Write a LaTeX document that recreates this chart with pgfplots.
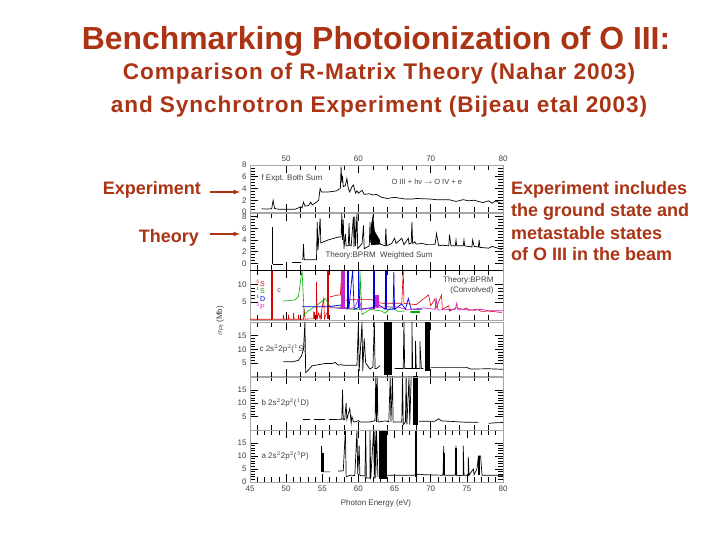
\documentclass[border=0pt]{standalone}
\usepackage{pgfplots}
\pgfplotsset{compat=1.18}
\usepackage{fontspec}
\setmainfont{Liberation Sans}
\definecolor{brick}{RGB}{170,52,20}
\definecolor{mag}{RGB}{200,40,200}
\pgfplotsset{panel/.style={
  scale only axis,anchor=south west,width=253pt,xmin=45,xmax=80,
  axis line style={draw=black!35,line width=0.3pt},
  tick style={black,line width=0.6pt},
  xtick distance=10,minor x tick num=4,
  tick align=inside,
  xticklabels={},yticklabels={},
  xtick pos=both,ytick pos=both,
  major tick length=8pt,minor tick length=5pt,
  ticklabel style={font=\fontsize{8}{8}\selectfont,text=black!75},
  /pgf/number format/assume math mode=true,
  cycle list={{black,solid,mark=none}},
  no markers,
  every axis plot/.append style={line width=0.7pt,line join=miter}
}}
\begin{document}
\begin{tikzpicture}[x=1pt,y=1pt]
\path[fill=white] (0,0) rectangle (720,540);
\useasboundingbox (0,0) rectangle (720,540);

% titles
\node[text=brick,font=\fontsize{31.9}{33}\selectfont\bfseries,anchor=center,inner sep=0pt] at (376,498.5) {Benchmarking Photoionization of O III:};
\node[text=brick,font=\fontsize{22.6}{24}\selectfont\bfseries\addfontfeatures{LetterSpace=4},anchor=center,inner sep=0pt] at (379,466.5) {Comparison of R-Matrix Theory (Nahar 2003)};
\node[text=brick,font=\fontsize{22.6}{24}\selectfont\bfseries\addfontfeatures{LetterSpace=4},anchor=center,inner sep=0pt] at (379,433) {and Synchrotron Experiment (Bijeau etal 2003)};

\node[text=brick,font=\fontsize{18}{20}\selectfont\bfseries,anchor=east,inner sep=0pt] at (201,350) {Experiment};
\node[text=brick,font=\fontsize{18}{20}\selectfont\bfseries,anchor=east,inner sep=0pt] at (199,302) {Theory};
\foreach \t/\yy in {Experiment includes/350,the ground state and/328,metastable states/307,of O III in the beam/286}
  \node[text=brick,font=\fontsize{18}{20}\selectfont\bfseries,anchor=west,inner sep=0pt] at (511,\yy) {\t};
\draw[brick,line width=1.2pt,-latex] (210,348) -- (240,348);
\draw[brick,line width=1.2pt,-latex] (210,306) -- (240,306);

% a panel
\begin{axis}[panel,at={(250pt,58pt)},height=52pt,ymin=0,ymax=20,ytick={0,5,10,15},minor y tick num=4,
  xtick={45,50,...,80},minor x tick num=4,xticklabels={45,50,55,60,65,70,75,80},xtick pos=both,xticklabel pos=bottom,
  yticklabels={0,5,10,15}]
\addplot coordinates {(54.9,3.9)(54.9,13.8)(55,3.9)(56.1,3.9)};
\addplot[line width=2pt] coordinates {(55.05,4)(55.05,11)};
\addplot coordinates {(57.2,4.2)(57.9,4.3)(58.2,20)(58.3,2)(58.8,2.6)(59.5,2.5)(59.8,20)(59.9,3)(60.1,14)(60.2,2.5)(60.9,2.3)(61,20)(61.1,1.5)(61.6,1.5)(61.6,20)(61.7,1)(62.1,20)(62.2,1.3)(62.3,20)(62.4,1.5)(62.5,20)(62.7,2)};
\addplot[line width=8.5pt] coordinates {(63.4,1.3)(63.4,20)};
\addplot coordinates {(64,2.6)(67.6,2.6)(68.4,3)(69,2.8)(71.7,2.6)(71.8,13.8)(71.9,2.6)(73.4,2.6)(73.5,14)(73.6,2.4)(74.5,2.6)(74.5,14)(74.6,2.6)(75.2,2.6)(75.2,9.7)(75.3,2.6)(75.9,5)(76,2.8)(76.4,5)(76.6,10)(76.9,10)(77.1,2.6)(80,2.6)};
\addplot[line width=2pt] coordinates {(67.95,2)(67.95,20)};
\addplot[line width=2pt] coordinates {(71.9,2.6)(71.9,11)};
\addplot[line width=2pt] coordinates {(73.55,2.6)(73.55,13)};
\addplot[line width=2.5pt] coordinates {(76.7,2.6)(76.7,10)};
\end{axis}
\draw[black,line width=0.9pt] (250,110) -- (503,110);
\node[font=\fontsize{8}{8}\selectfont,text=black!75,anchor=west] at (258,84) {a 2s$^2$2p$^2$($^3$P)};
\node[font=\fontsize{8}{8}\selectfont,text=black!75] at (376,37) {Photon Energy (eV)};

% b panel
\begin{axis}[panel,at={(250pt,110pt)},height=53.5pt,ymin=0,ymax=20,ytick={5,10,15},minor y tick num=4,xtick pos=both,
  yticklabels={5,10,15}]
\addplot coordinates {(52.4,3.9)(53.3,3.9)};
\addplot coordinates {(53.8,3.9)(55.4,3.9)};
\addplot coordinates {(55.9,3.9)(57.7,4)(57.8,15)(57.9,3.9)(58.1,3.9)(58.3,10)(58.4,3.9)(58.6,6)(58.8,8)(59,2.6)(59.1,5)(59.3,3.2)(59.5,3)(60,3.5)(60.2,3)(61.6,3)(62.3,3.5)(62.4,20)(62.5,3)(62.6,20)(62.7,3)(63.8,3.4)(64.2,3)(64.4,20)(64.5,3)(64.7,20)(64.8,3)(66,3)(66.1,20)(66.2,2)(66.5,3)(66.6,20)(66.7,2)(67,20)(67.1,2)(67.3,20)};
\addplot[line width=5.5pt] coordinates {(67.9,2)(67.9,20)};
\addplot coordinates {(68.4,3.3)(70.6,3.3)(71.1,4.2)(71.5,3.4)(73,3.2)(74,3.0)(75,2.9)(76.6,2.9)};
\addplot coordinates {(78,2.5)(79,2.7)(80,2.8)};
\end{axis}
\node[font=\fontsize{8}{8}\selectfont,text=black!75,anchor=west] at (258,137) {b 2s$^2$2p$^2$($^1$D)};

% c panel
\begin{axis}[panel,at={(250pt,163.3pt)},height=54.7pt,ymin=0,ymax=20,ytick={5,10,15},minor y tick num=4,
  yticklabels={5,10,15}]
\addplot coordinates {(49.6,5.5)(51,5.5)(51.7,6)(52.1,7.5)(52.4,10)(52.6,20)(52.7,1.5)(53.1,2.5)(53.6,4)(55.4,4.8)(56.3,4.8)(56.8,5.2)(57.2,4.2)(57.5,4.4)(58,4.2)(59.8,4.2)(60,20)(60.1,2)(60.5,20)(60.6,2)(60.8,14)(61,5)(61.6,2.8)(62,3.5)(62.2,20)(62.3,3)(62.5,3)(63,4)};
\addplot[line width=7.5pt] coordinates {(64.1,0.6)(64.1,20)};
\addplot coordinates {(65,3)(66.2,3)(66.3,20)(66.4,3)(67.4,3)(67.4,20)(67.5,3)(67.9,3)(67.9,13)(68,3)(68.5,3)(68.5,13)(68.7,3)(69,3)};
\addplot[line width=5pt] coordinates {(69.55,2)(69.55,20)};
\addplot coordinates {(70,3.4)(75,3.4)(75.5,2.8)(78,2.9)(80,2.7)};
\end{axis}
\node[font=\fontsize{8}{8}\selectfont,text=black!75,anchor=west] at (256,191) {c 2s$^2$2p$^2$($^1$S)};

% convolved panel
\begin{axis}[panel,at={(250pt,220pt)},height=50pt,ymin=0,ymax=14,ytick={5,10},minor y tick num=4,
  yticklabels={5,10},xtick pos=both]
\addplot[red!85!black,line width=0.6pt] coordinates {(45,0.2)(49.6,0.2)(49.6,1.5)(49.7,0.2)(50.3,0.2)(50.3,1.5)(50.4,0.2)(51,0.2)(51,2)(51.1,0.2)(51.7,0.2)(51.7,1.4)(51.8,0.2)(52.4,0.2)(52.5,3.2)(52.6,0.2)(53.1,0.3)(53.8,0.3)(53.8,2)(54,0.3)(54.2,0.3)(54.2,10.7)(54.3,0.3)(54.5,2)(54.7,0.3)(55.2,6)(55.3,0.3)(55.6,2)};
\addplot[red!85!black,line width=1.2pt] coordinates {(53.9,0.3)(53.9,2.2)};
\addplot[red!85!black,line width=1.2pt] coordinates {(54.9,0.3)(54.9,2.2)};
\addplot[red!85!black,line width=1.5pt] coordinates {(55.8,0.3)(55.8,14)};
\addplot[red!85!black,line width=2pt] coordinates {(48.1,0.2)(48.1,14)};
\addplot[red!85!black,line width=0.6pt] coordinates {(56.1,6.5)(57.2,7)(57.5,7)(57.7,14)(57.8,5.5)(59,5.7)(61.8,5.7)(62.5,5)(63.2,4.7)(65.5,4.7)(66,4.7)(66.2,14)(66.3,4.7)(67,4.5)(68,4.3)(69.7,7)(70,4)(70.6,6)(70.7,3.2)(71.5,7)(71.6,3)(72.5,4)(72.6,2.5)(73.5,3.4)(74.5,3)(75,3.4)(75.2,2.7)(76.5,3)(77,2.4)(78,2.5)(79.8,2.1)};
\addplot[green!70!black,line width=0.6pt] coordinates {(49.6,5.3)(51.2,5.6)(51.7,6.5)(52.2,14)(52.5,1.4)(53,2.5)(54,3.7)(55.4,6)(56.1,3.7)(57.7,3.5)(59,3)(60.2,3)(60.2,14)(60.5,1.5)(61.6,3)(63.2,2.5)(63.7,1.9)(64.5,3.5)(65.5,2.4)(66.5,2.5)};
\addplot[green!70!black,line width=2pt] coordinates {(67.2,2.2)(68.5,2.3)};
\addplot[blue!85!black,line width=0.7pt] coordinates {(52.2,3.7)(55.8,3.7)(57.5,4.2)(58,3.3)(58.7,3.5)(59.2,14)(59.4,3)(60,3.5)(60,14)(60.2,3)(62,3.5)(62.3,5)(63.7,3)(63.8,14)(63.9,3)(64.8,3)(64.9,13.5)(65,3)(66,4.5)(66.5,3)(66.9,6)(67.3,3)(68.8,3)};
\addplot[blue!85!black,line width=2.2pt] coordinates {(58.6,3)(58.6,14)};
\addplot[blue!85!black,line width=2.2pt] coordinates {(62.1,3)(62.1,14)};
\addplot[blue!85!black,line width=1.5pt] coordinates {(63.8,3)(63.8,14)};
\addplot[mag,line width=0.7pt] coordinates {(56.1,3.5)(57.5,3.2)(57.7,5)(58.3,3)(59.5,3.5)(60,6)(60.5,3)(61.6,3.2)(62.6,3.5)(64,3.7)(65.5,3.6)(66.8,2.8)(69,3.4)(70.6,3)(70.8,5.6)(71,2.8)(73.4,3)(73.6,4.7)(73.8,2.8)(75,3)(76,2.7)(77,3)(78,2.6)(80,2.6)};
\addplot[mag,line width=2pt] coordinates {(57.7,3)(57.7,14)};
\addplot[mag,line width=1.2pt] coordinates {(58,3)(58,14)};
\addplot[mag,line width=4pt] coordinates {(62.5,3.5)(62.5,7)};
\end{axis}
\node[font=\fontsize{8}{8}\selectfont,text=black!75,anchor=east] at (497,260) {Theory:BPRM};
\node[font=\fontsize{8}{8}\selectfont,text=black!75,anchor=east] at (497,250) {(Convolved)};
\node[font=\fontsize{7}{7}\selectfont,text=red!85!black,anchor=west,inner sep=0pt] at (256,257) {$^5$S};
\node[font=\fontsize{7}{7}\selectfont,text=green!60!black,anchor=west,inner sep=0pt] at (256,250) {$^1$S};
\node[font=\fontsize{7}{7}\selectfont,text=blue!85!black,anchor=west,inner sep=0pt] at (256,242) {$^1$D};
\node[font=\fontsize{7}{7}\selectfont,text=mag,anchor=west,inner sep=0pt] at (256,234) {$^3$P};
\node[font=\fontsize{7}{7}\selectfont,text=black!75,inner sep=0pt] at (279,249) {c};

% theory panel
\begin{axis}[panel,at={(250pt,270pt)},height=56.7pt,ymin=-1.14,ymax=8.57,ytick={0,2,4,6,8},minor y tick num=3,
  yticklabels={0,2,4,6,8}]
\addplot[line width=1.5pt] coordinates {(48.1,-0.1)(48.1,6.2)};
\addplot coordinates {(48.2,-0.1)(49.6,-0.1)};
\addplot coordinates {(50.8,0.1)(52,0.1)};
\addplot coordinates {(52.3,0.6)(52.4,3.3)(52.5,0.6)(54.2,0.6)(54.3,7.1)(54.4,2.3)(54.7,7.7)(54.8,3.5)(55.8,4)(57.2,4.5)(57.6,4.5)(57.7,8.57)(57.8,4)(57.9,7.5)(58,2.5)(58.2,5)(58.3,3)(58.6,3)(58.7,6.9)(58.8,3)(59,3)(59.3,8)(59.4,2.8)(59.5,8)(59.6,3)(59.8,8.57)(59.9,2.5)(60.5,3.4)(60.7,6.5)(60.8,2.5)(61.5,3)(61.6,7)(61.7,3.5)};
\addplot[fill=black,draw=black] coordinates {(61.8,6.5)(61.8,3.2)(63,3.3)(62.9,4)(62.2,5.5)(62.0,8)(61.8,6.5)};
\addplot coordinates {(63,3.3)(63.7,3)(63.8,6)(63.9,3)(64.6,3.4)(65,4.3)(65.2,3.4)(66,4.3)(66.3,3.2)(66.9,4.3)(67,3.3)(67.3,3.5)(67.4,7.1)(67.5,3.4)(67.8,3.7)(68,3.3)(68.8,3.4)(69.5,3.2)(70.6,3.2)(70.8,5.1)(71.1,3)(71.6,3.1)(72.5,3)(72.6,4.9)(72.8,3)(73.4,3)(73.5,4)(73.6,3)(74.5,3)(74.6,4)(74.7,3)(75.7,2.8)(75.8,4)(76,2.9)(76.6,2.8)(76.7,4)(76.8,2.7)(77.1,2.7)(78,2.6)(78.5,2.9)(79.8,2.4)};
\addplot[line width=1.6pt] coordinates {(62.1,3.2)(62.1,7)};
\end{axis}
\node[font=\fontsize{8}{8}\selectfont,text=black!75,anchor=west] at (322,285) {Theory:BPRM \ Weighted Sum};
\draw[black,line width=0.9pt] (250,270) -- (503,270);

% experiment panel
\begin{axis}[panel,at={(250pt,328pt)},height=47pt,ymin=0,ymax=8,ytick={0,2,4,6,8},minor y tick num=3,
  xtick={50,60,70,80},xticklabels={50,60,70,80},xticklabel pos=top,xtick pos=both,
  yticklabels={0,2,4,6,8}]
\addplot coordinates {(46.6,0.55)(47.2,0.5)(48,0.55)(48.2,2)(48.4,0.6)(49,0.45)(51.2,0.45)(51.7,0.7)(52,0.9)(52.2,0.7)(52.4,1.7)(52.6,1)(53.1,1.1)(53.4,1.7)(53.6,1.2)(54,1.5)(54.5,2)(54.7,4)(54.9,3.4)(55.8,3.4)(57,3.6)(57.2,3.8)(57.5,4)(57.6,7.7)(57.7,5)(57.8,6.2)(57.9,4.3)(58.2,4.5)(58.4,5.7)(58.6,4)(58.8,3.4)(59.1,4.3)(59.3,4.6)(59.6,3.2)(59.8,3.6)(60,3.2)(60.5,3.7)(60.8,3)(61.5,3.1)(62,2.9)(62.5,3)(63.2,2.5)(64,2.3)(65,2.5)(66.5,2.2)(67.5,2.2)(68,2.3)(70,2.2)(70.7,2.1)(72.5,2.1)(73.5,1.8)(74.5,2.1)(75.2,1.9)(76,2)(76.6,1.8)(77.2,1.6)(78,1.9)(78.5,1.5)(79,1.9)(79.8,1.4)};
\end{axis}
\node[font=\fontsize{8}{8}\selectfont,text=black!75,anchor=west] at (258,362) {f Expt. Both Sum};
\node[font=\fontsize{7.5}{8}\selectfont,text=black!75,anchor=west] at (388,358) {O III + hv $\rightarrow$ O IV + e};

\node[font=\fontsize{8}{8}\selectfont,text=black!75,rotate=90] at (220,219) {$\sigma_{\rm PI}$ (Mb)};
\end{tikzpicture}
\end{document}
